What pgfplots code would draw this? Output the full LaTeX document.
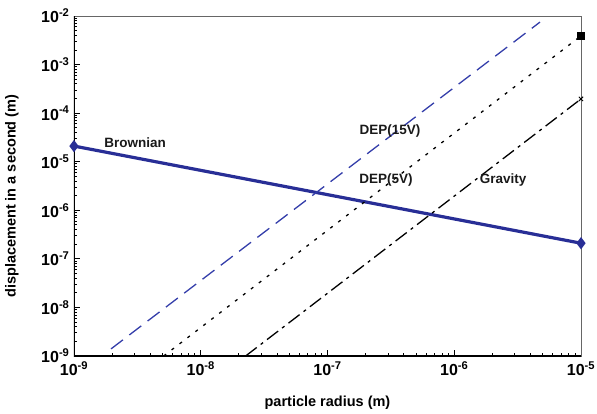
\documentclass[border=0pt]{standalone}
\usepackage{fontspec}
\setmainfont{Liberation Sans}
\usepackage{pgfplots}
\pgfplotsset{compat=1.18}

\definecolor{brown1}{RGB}{40,46,150}
\definecolor{dep15}{RGB}{52,62,170}

\begin{document}
\begin{tikzpicture}
\useasboundingbox (-74bp,-58bp) rectangle (523bp,356bp);
\begin{loglogaxis}[
    scale only axis,
    width=507bp, height=340bp,
    xmin=1e-9, xmax=1e-5,
    ymin=1e-9, ymax=1e-2,
    log basis x=10, log basis y=10,
    xtick={1e-9,1e-8,1e-7,1e-6,1e-5},
    xticklabels={10\textsuperscript{-9},10\textsuperscript{-8},10\textsuperscript{-7},10\textsuperscript{-6},10\textsuperscript{-5}},
    ytick={1e-9,1e-8,1e-7,1e-6,1e-5,1e-4,1e-3,1e-2},
    yticklabels={10\textsuperscript{-9},10\textsuperscript{-8},10\textsuperscript{-7},10\textsuperscript{-6},10\textsuperscript{-5},10\textsuperscript{-4},10\textsuperscript{-3},10\textsuperscript{-2}},
    minor xtick={2e-9,3e-9,4e-9,5e-9,6e-9,7e-9,8e-9,9e-9,
                 2e-8,3e-8,4e-8,5e-8,6e-8,7e-8,8e-8,9e-8,
                 2e-7,3e-7,4e-7,5e-7,6e-7,7e-7,8e-7,9e-7,
                 2e-6,3e-6,4e-6,5e-6,6e-6,7e-6,8e-6,9e-6},
    minor ytick={2e-9,3e-9,4e-9,5e-9,6e-9,7e-9,8e-9,9e-9,
                 2e-8,3e-8,4e-8,5e-8,6e-8,7e-8,8e-8,9e-8,
                 2e-7,3e-7,4e-7,5e-7,6e-7,7e-7,8e-7,9e-7,
                 2e-6,3e-6,4e-6,5e-6,6e-6,7e-6,8e-6,9e-6,
                 2e-5,3e-5,4e-5,5e-5,6e-5,7e-5,8e-5,9e-5,
                 2e-4,3e-4,4e-4,5e-4,6e-4,7e-4,8e-4,9e-4,
                 2e-3,3e-3,4e-3,5e-3,6e-3,7e-3,8e-3,9e-3},
    tick pos=left,
    tick align=inside,
    major tick length=6bp,
    minor tick length=3.5bp,
    every tick/.style={black, line width=0.9bp},
    axis line style={line width=0.8bp, black!60},
    tick label style={font=\fontsize{16bp}{18bp}\selectfont\bfseries},
    xticklabel style={yshift=-2bp},
    yticklabel style={xshift=-1bp},
    xlabel={particle radius (m)},
    ylabel={displacement in a second (m)},
    label style={font=\fontsize{14.5bp}{17bp}\selectfont\bfseries},
    x label style={at={(axis description cs:0.5,0)}, anchor=center, yshift=-47bp},
    y label style={at={([xshift=-62bp]axis description cs:0,0.47)}, anchor=center},
    clip=true,
]
% Brownian
\addplot[brown1, line width=3.2bp, mark=diamond*, mark size=3.5bp,
    mark options={fill=brown1}]
    coordinates {(1e-9,2.1e-5) (1e-5,2.1e-7)};
% DEP(15V)
\addplot[dep15, line width=1.3bp, dash pattern=on 15bp off 8bp]
    coordinates {(1.96e-9,1.4e-9) (4.75e-6,7.5e-3)};
% DEP(5V)
\addplot[black, line width=1.3bp, dash pattern=on 3bp off 7bp,
    mark=square*, mark size=3bp, mark indices={2}, mark options={solid}]
    coordinates {(5.1e-9,1e-9) (1e-5,3.9e-3)};
% Gravity
\addplot[black, line width=1.3bp, dash pattern=on 14bp off 5bp on 3bp off 5bp,
    mark=x, mark size=3bp, mark indices={2}, mark options={solid, line width=1bp}]
    coordinates {(2.26e-8,1e-9) (1e-5,1.96e-4)};

\begin{scope}[every node/.style={font=\fontsize{13.5bp}{16bp}\selectfont\bfseries, text=black!90}]
\node at (axis cs:3.03e-9,2.44e-5) {Brownian};
\node at (axis cs:3.11e-7,4.3e-5) {DEP(15V)};
\node at (axis cs:2.9e-7,4.23e-6) {DEP(5V)};
\node at (axis cs:2.43e-6,4.23e-6) {Gravity};
\end{scope}

\draw[black, line width=1.8bp] (rel axis cs:0,1) -- (rel axis cs:0,0) -- (rel axis cs:1,0);
\end{loglogaxis}
\end{tikzpicture}
\end{document}
